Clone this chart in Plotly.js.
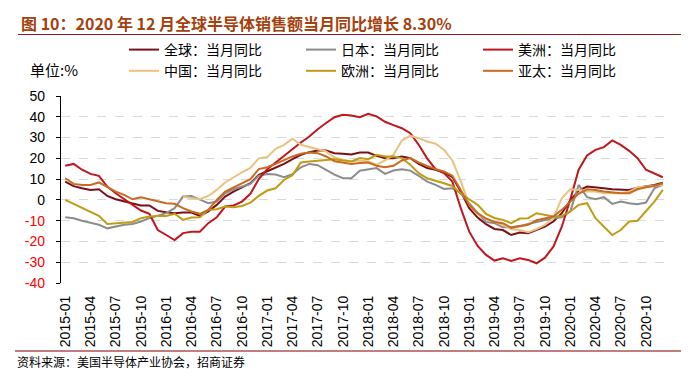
<!DOCTYPE html>
<html>
<head>
<meta charset="utf-8">
<script src="https://cdn.plot.ly/plotly-3.0.1.min.js"></script>
<style>
html,body{margin:0;padding:0;background:#fff;}
#chart{width:694px;height:376px;}
</style>
</head>
<body>
<div id="chart"></div>
<script>
// ---- data ----
const years = ["2015","2016","2017","2018","2019","2020"];
const months = [];
for (const y of years) { for (let m = 1; m <= 12; m++) { months.push(y + "-" + (m < 10 ? "0" + m : "" + m)); } }

const tickLabels = ["2015-01","2015-04","2015-07","2015-10","2016-01","2016-04","2016-07","2016-10",
  "2017-01","2017-04","2017-07","2017-10","2018-01","2018-04","2018-07","2018-10",
  "2019-01","2019-04","2019-07","2019-10","2020-01","2020-04","2020-07","2020-10"];

const seriesNames = ["全球：当月同比","日本：当月同比","美洲：当月同比","中国：当月同比","欧洲：当月同比","亚太：当月同比"];

const global = [8.8,6.6,5.6,4.8,5.1,1.9,0.3,-0.8,-1.9,-2.7,-2.7,-5.3,-5.9,-6.4,-6.1,-6.1,-7.7,-5.6,-2.4,1.6,4.0,6.1,8.0,12.0,
  13.7,15.3,17.3,19.6,21.7,23.0,23.8,23.8,22.5,22.2,21.8,22.8,22.8,21.2,20.1,20.1,20.9,20.1,17.3,15.3,14.5,13.2,11.0,4.0,
  -4.0,-8.5,-11.7,-14.0,-14.5,-16.9,-15.7,-16.1,-14.5,-12.9,-10.4,-6.4,-0.3,4.5,6.4,6.1,5.6,5.1,4.8,4.8,5.9,6.4,7.2,8.3];

const japan = [-8.4,-8.8,-10.0,-10.9,-12.0,-13.7,-12.9,-12.0,-11.6,-10.4,-8.8,-7.7,-6.4,-4.0,1.6,1.9,0.3,-1.6,-0.8,3.2,5.1,6.4,7.7,11.6,
  12.5,12.2,10.9,12.4,15.7,17.3,16.7,14.5,12.2,10.4,10.4,14.0,14.8,15.3,12.5,14.1,14.8,14.1,11.6,8.8,7.2,5.3,5.6,3.2,
  -1.6,-6.4,-10.6,-11.2,-13.2,-13.2,-12.5,-11.6,-10.4,-9.6,-8.8,-8.4,-5.6,7.2,1.3,0.3,1.3,-1.9,-0.8,-1.6,-2.1,-1.3,5.6,7.2];

const americas = [16.4,17.3,14.5,12.5,11.6,6.4,3.2,0.3,-2.4,-5.1,-6.7,-14.5,-16.9,-19.3,-16.0,-15.3,-15.3,-11.2,-8.4,-3.2,-2.7,-0.8,2.9,10.0,
  14.8,18.0,21.5,24.4,27.6,30.5,34.0,37.0,39.8,41.0,40.6,39.8,41.4,40.2,37.6,36.0,34.5,32.1,26.5,20.0,14.8,12.9,8.8,-4.0,
  -15.3,-22.2,-26.5,-29.2,-28.1,-29.4,-28.1,-28.9,-30.5,-27.8,-22.5,-12.9,0.0,14.5,21.4,24.1,25.4,28.6,26.5,23.6,20.1,14.5,12.5,10.9];

const china = [null,null,null,null,null,null,null,null,null,null,null,null,null,null,1.5,0.8,0.3,1.9,4.8,8.4,11.0,13.3,15.4,20.0,
  20.6,24.6,26.5,29.4,26.5,25.4,24.4,23.3,20.4,19.3,18.6,19.0,18.5,16.9,19.0,21.7,28.6,30.8,29.7,28.1,27.0,24.1,19.0,9.0,
  -2.4,-6.7,-9.2,-10.4,-12.0,-14.1,-14.5,-15.6,-14.1,-12.0,-8.8,0.8,5.1,4.8,4.0,4.0,3.2,3.2,3.2,4.0,6.1,6.4,6.7,7.2];

const europe = [0.0,-1.9,-4.0,-6.1,-7.7,-11.6,-11.2,-10.9,-10.6,-8.8,-8.0,-7.7,-7.7,-6.7,-9.6,-8.5,-8.4,-4.8,-4.5,-3.2,-3.5,-2.9,-1.3,1.9,
  4.5,5.6,9.6,11.9,18.0,18.5,18.8,19.0,19.6,19.0,18.5,20.1,19.6,21.7,20.9,20.9,20.1,16.9,12.9,10.4,9.3,8.0,6.7,3.0,
  0.3,-2.4,-6.7,-8.7,-9.6,-11.2,-9.0,-8.8,-6.4,-7.2,-8.0,-7.7,-5.6,-2.4,-1.6,-8.8,-12.9,-16.9,-14.5,-10.4,-10.0,-5.6,-0.8,4.8];

const asiaPacific = [10.4,7.7,7.2,7.2,8.4,6.1,4.0,2.4,0.3,1.3,0.3,-0.8,-1.6,-1.9,-4.0,-5.6,-6.7,-4.8,0.0,4.0,6.1,8.0,10.0,14.8,
  15.7,17.3,19.3,20.9,22.2,22.8,22.5,20.9,18.6,18.0,17.3,17.7,18.0,16.4,15.7,16.4,19.0,20.1,18.0,16.4,14.8,13.7,11.6,4.8,
  -2.4,-6.4,-9.0,-10.6,-11.2,-13.5,-12.9,-12.0,-9.8,-8.8,-8.0,-4.8,-0.8,2.9,5.1,4.8,4.0,3.5,3.2,3.2,5.1,6.1,6.7,8.0];

const yTickVals = [-40,-30,-20,-10,0,10,20,30,40,50];

// ---- styles ----
const colors = ["#7B1116","#8C8C8C","#C0161D","#E8C27F","#BF9C14","#C96A21"];
const seriesData = [global, japan, americas, china, europe, asiaPacific];

const traces = seriesData.map((d, k) => ({
  type: "scatter", mode: "lines", x: months, y: d, name: seriesNames[k],
  line: {color: colors[k], width: 2}, connectgaps: false, hoverinfo: "skip"
}));

const yTickText = yTickVals.map(v => v < 0 ? '<span style="color:#FF0000">' + v + '</span>' : String(v));

const L = 61, R = 27, T = 96, B = 93;
const W = 694, H = 376;
const pw = W - L - R, ph = H - T - B;
const px = x => (x - L) / pw;
const py = y => (H - B - y) / ph;

const layout = {
  width: W, height: H,
  margin: {l: L, r: R, t: T, b: B, pad: 0},
  paper_bgcolor: "#ffffff", plot_bgcolor: "#ffffff",
  font: {family: "Liberation Sans, Arial, sans-serif", color: "#000", size: 14},
  showlegend: true,
  legend: {
    orientation: "h", x: px(124), y: py(34), xanchor: "left", yanchor: "top",
    entrywidth: 132, entrywidthmode: "pixels",
    font: {family: "Noto Sans CJK SC", size: 14, color: "#000"},
    bgcolor: "rgba(0,0,0,0)", traceorder: "normal", itemwidth: 30
  },
  xaxis: {
    type: "category", categoryorder: "array", categoryarray: months,
    range: [-0.5, 71.5], tickmode: "array", tickvals: tickLabels, ticktext: tickLabels,
    tickangle: -90, ticks: "", showline: false, showgrid: false, zeroline: false,
    ticklabelstandoff: 9,
    tickfont: {family: "Liberation Sans, Arial", size: 14, color: "#000"}
  },
  xaxis2: {
    overlaying: "x", anchor: "free", position: 40 / 90, type: "linear",
    range: [-0.5, 71.5], tickmode: "linear", tick0: -0.5, dtick: 3,
    ticks: "outside", ticklen: 5, tickwidth: 1, tickcolor: "#000",
    showticklabels: false, showline: true, linecolor: "#000", linewidth: 1.5,
    showgrid: false, zeroline: false
  },
  yaxis: {
    range: [-40, 50], tickmode: "array", tickvals: yTickVals, ticktext: yTickText,
    showline: true, linecolor: "#000", linewidth: 1.2, ticks: "outside", ticklen: 4, tickcolor: "#000",
    showgrid: true, gridcolor: "#D9D9D9", griddash: "dash", gridwidth: 1, zeroline: false,
    ticklabelstandoff: 8,
    tickfont: {family: "Liberation Sans, Arial", size: 14, color: "#000"}
  },
  title: {
    text: "<b>图 10：2020 年 12 月全球半导体销售额当月同比增长 8.30%</b>",
    xref: "container", yref: "container", x: 21 / W, xanchor: "left", y: 1 - 24 / H, yanchor: "middle",
    font: {family: "Noto Sans CJK SC", size: 16, color: "#A3420E"}
  },
  annotations: [
    {text: "单位:%", xref: "paper", yref: "paper", x: px(28), y: py(69), xanchor: "left", yanchor: "middle",
     showarrow: false, font: {family: "Noto Sans CJK SC", size: 15, color: "#000"}},
    {text: "资料来源：美国半导体产业协会，招商证券", xref: "paper", yref: "paper", x: px(15), y: py(361), xanchor: "left", yanchor: "middle",
     showarrow: false, font: {family: "Noto Sans CJK SC", size: 12, color: "#000"}}
  ],
  shapes: [
    {type: "line", xref: "paper", yref: "paper", x0: px(18), x1: px(681), y0: py(34.5), y1: py(34.5), line: {color: "#8B1A1A", width: 1.2}},
    {type: "line", xref: "paper", yref: "paper", x0: px(15), x1: px(681), y0: py(351), y1: py(351), line: {color: "#7F0000", width: 1.2}}
  ]
};

Plotly.newPlot("chart", traces, layout, {staticPlot: true, displayModeBar: false});
</script>
</body>
</html>
